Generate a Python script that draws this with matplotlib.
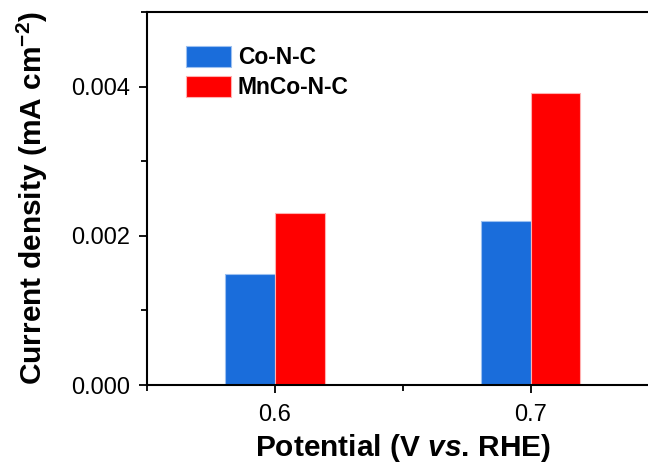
import numpy as np
import matplotlib
matplotlib.use("Agg")
import matplotlib.pyplot as plt
from matplotlib.ticker import MultipleLocator

plt.rcParams["font.family"] = ["Liberation Sans", "DejaVu Sans"]
plt.rcParams["mathtext.fontset"] = "custom"
plt.rcParams["mathtext.rm"] = "Liberation Sans:bold"
plt.rcParams["mathtext.it"] = "Liberation Sans:italic:bold"
plt.rcParams["mathtext.bf"] = "Liberation Sans:bold"

# data
potentials = [0.6, 0.7]
series_names = ["Co-N-C", "MnCo-N-C"]
co_n_c = [0.00149, 0.00220]
mnco_n_c = [0.00231, 0.00391]
colors = ["#1a6ddb", "#ff0000"]
edge_colors = ["#9cc0f0", "#ffb0b0"]

bar_w = 0.0195

fig = plt.figure(figsize=(6.48, 4.68), dpi=100)
ax = fig.add_axes([147 / 648, 83 / 468, 511.5 / 648, 373 / 468])

x = np.array(potentials)
for i, (vals, name) in enumerate(zip([co_n_c, mnco_n_c], series_names)):
    offset = (i - 0.5) * bar_w
    ax.bar(x + offset, vals, width=bar_w, color=colors[i],
           edgecolor=edge_colors[i], linewidth=0.8, label=name, zorder=2)

ax.set_xlim(0.55, 0.75)
ax.set_ylim(0, 0.005)
ax.set_xticks(potentials)
ax.set_xticklabels(["0.6", "0.7"])
ax.xaxis.set_minor_locator(MultipleLocator(0.05))
ax.set_yticks([0.0, 0.002, 0.004])
ax.set_yticklabels(["0.000", "0.002", "0.004"])
ax.yaxis.set_minor_locator(MultipleLocator(0.001))

ax.tick_params(which="both", direction="out", width=1.3, labelsize=17,
               top=False, right=False)
ax.tick_params(which="major", length=6)
ax.tick_params(axis="y", which="major", pad=6)
ax.tick_params(axis="x", which="major", pad=8)
ax.tick_params(which="minor", length=4)
for sp in ax.spines.values():
    sp.set_linewidth(1.5)

ax.set_xlabel(r"Potential (V $\mathit{vs}$. RHE)", fontsize=21.5,
              fontweight="bold", labelpad=4)
ax.set_ylabel(r"Current density (mA cm$^{-2}$)", fontsize=21.5,
              fontweight="bold", labelpad=15)

leg = ax.legend(loc="upper left", bbox_to_anchor=(0.059, 0.934), frameon=False,
                prop={"weight": "bold", "size": 16.5}, handlelength=1.95,
                handleheight=1.02, labelspacing=0.3, handletextpad=0.3,
                borderaxespad=0)

fig.savefig("out.png", dpi=100)
